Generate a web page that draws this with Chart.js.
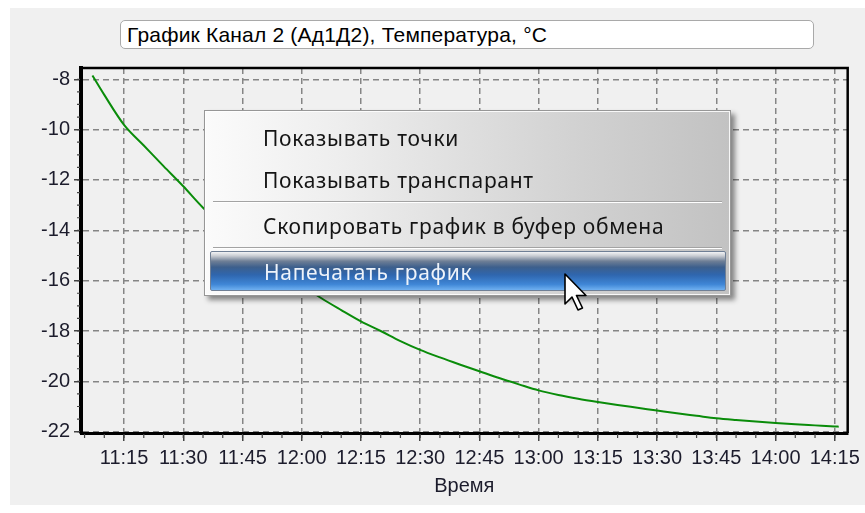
<!DOCTYPE html>
<html>
<head>
<meta charset="utf-8">
<script src="https://cdn.jsdelivr.net/npm/chart.js@4.4.1/dist/chart.umd.min.js"></script>
<style>
  html, body { margin: 0; padding: 0; background: #ffffff; }
  #wrap { position: relative; width: 865px; height: 513px; overflow: hidden; }
  #panel { position: absolute; left: 10px; top: 8px; width: 855px; height: 497px; background: #f0f0f0; }
  #c { position: absolute; left: 0; top: 0; }
  #caption {
    position: absolute; left: 120px; top: 20px; width: 694px; height: 29px;
    box-sizing: border-box; border: 1px solid #a9a9a9; border-radius: 5px;
    background: #ffffff; font-family: "Liberation Sans", Arial, sans-serif;
    font-size: 21px; line-height: 27px; padding-left: 6px; color: #000;
    white-space: nowrap; letter-spacing: 0.2px;
  }
  #menu {
    position: absolute; left: 204px; top: 110px; width: 527px; height: 186px;
    box-sizing: border-box; border: 1px solid #979797;
    background: linear-gradient(to right, #fbfbfb 0%, #eeeeee 25%, #d2d2d2 70%, #c2c2c2 100%);
    box-shadow: inset 0 0 0 1px rgba(255,255,255,0.85), 4px 4px 5px rgba(0,0,0,0.45);
    font-family: "Noto Sans", "Open Sans", sans-serif; font-size: 21px; letter-spacing: 0.7px; color: #141414;
  }
  .item { position: absolute; left: 58px; height: 30px; line-height: 30px; white-space: nowrap; }
  .sep { position: absolute; left: 8px; width: 509px; height: 1px; background: #a3a3a3; border-bottom: 1px solid #ffffff; }
  #hl {
    position: absolute; left: 5px; top: 140px; width: 516px; height: 40px;
    box-sizing: border-box; border: 1px solid #6f7f95; border-radius: 2px;
    background: linear-gradient(to bottom, #f2f3f5 0%, #c9cdd3 10%, #6f7f96 24%, #3d5f8c 40%, #2f66ae 60%, #3f86d6 85%, #6fb0f0 100%);
  }
  #hl .item { left: 53px; top: 5px; color: #eef3fa; }
  #cursor { position: absolute; left: 564px; top: 273px; }
</style>
</head>
<body>
<div id="wrap">
  <div id="panel"></div>
  <canvas id="c" width="865" height="513"></canvas>
  <div id="caption">График Канал 2 (Ад1Д2), Температура, °С</div>
  <div id="menu">
    <div class="item" style="top:12px">Показывать точки</div>
    <div class="item" style="top:54px">Показывать транспарант</div>
    <div class="sep" style="top:90px"></div>
    <div class="item" style="top:100px">Скопировать график в буфер обмена</div>
    <div class="sep" style="top:136px"></div>
    <div id="hl"><div class="item">Напечатать график</div></div>
  </div>
  <svg id="cursor" width="26" height="40" viewBox="0 0 26 40">
    <polygon points="1,1 1,31 8,24 14,37 18.5,35 12.5,22.5 22,22.5"
             fill="#ffffff" stroke="#000000" stroke-width="1.6" stroke-linejoin="round"/>
  </svg>
</div>
<script>
// Channel 2 temperature log (time of day, °C)
const times = [
  "11:07", "11:10", "11:15", "11:20", "11:25", "11:30", "11:35", "11:40",
  "11:45", "11:50", "11:55", "12:00", "12:05", "12:10", "12:15", "12:20",
  "12:25", "12:30", "12:35", "12:40", "12:45", "12:50", "12:55", "13:00",
  "13:05", "13:10", "13:15", "13:20", "13:25", "13:30", "13:35", "13:40",
  "13:45", "13:50", "13:55", "14:00", "14:05", "14:10", "14:15", "14:16"
];
const temps = [
  -7.85, -8.62, -9.81, -10.63, -11.45, -12.25, -13.10, -13.78,
  -14.43, -15.04, -15.62, -16.17, -16.70, -17.17, -17.62, -18.00,
  -18.40, -18.75, -19.05, -19.33, -19.60, -19.87, -20.12, -20.36,
  -20.54, -20.69, -20.82, -20.94, -21.05, -21.16, -21.27, -21.37,
  -21.47, -21.54, -21.60, -21.66, -21.71, -21.75, -21.79, -21.80
];

// Axis tick labels
const xTickLabels = ["11:15", "11:30", "11:45", "12:00", "12:15", "12:30", "12:45",
                     "13:00", "13:15", "13:30", "13:45", "14:00", "14:15"];
const yTickValues = [-22, -20, -18, -16, -14, -12, -10, -8];

const X_MIN = 664.1, X_MAX = 858.27;
const Y_MIN = -22.053, Y_MAX = -7.551;

const toMin = s => { const [h, m] = s.split(":").map(Number); return h * 60 + m; };
const fmtTime = v => {
  const h = Math.floor(v / 60), m = Math.round(v - h * 60);
  return h + ":" + String(m).padStart(2, "0");
};

const points = times.map((t, i) => ({ x: toMin(t), y: temps[i] }));
const xTickValues = xTickLabels.map(toMin);

// minor ticks: every 5 minutes on time axis, every 0.5 °C on value axis
const xMinor = [];
for (let v = 665; v <= X_MAX; v += 5) xMinor.push(v);
const yMinor = [];
for (let v = -22; v <= Y_MAX; v += 0.5) yMinor.push(v);

const frameAndMinor = {
  id: "frameAndMinor",
  afterDraw(chart) {
    const { ctx, chartArea: a, scales: { x, y } } = chart;
    ctx.save();
    ctx.strokeStyle = "#000";
    ctx.lineWidth = 2.5;
    ctx.beginPath();
    ctx.moveTo(a.left, a.top);
    ctx.lineTo(a.right, a.top);
    ctx.lineTo(a.right, a.bottom);
    ctx.stroke();
    ctx.strokeStyle = "#444";
    ctx.lineWidth = 1.2;
    ctx.beginPath();
    xMinor.forEach(v => {
      const px = x.getPixelForValue(v);
      ctx.moveTo(px, a.bottom + 1);
      ctx.lineTo(px, a.bottom + 5);
    });
    yMinor.forEach(v => {
      const py = y.getPixelForValue(v);
      ctx.moveTo(a.left - 1, py);
      ctx.lineTo(a.left - 4, py);
    });
    ctx.stroke();
    ctx.restore();
  }
};

const labelFont = { family: "'Liberation Sans', Arial, sans-serif", size: 20 };

new Chart(document.getElementById("c"), {
  type: "line",
  data: {
    datasets: [{
      data: points,
      borderColor: "#0a8c0a",
      borderWidth: 2,
      pointRadius: 0,
      cubicInterpolationMode: "monotone",
      fill: false
    }]
  },
  options: {
    responsive: false,
    animation: false,
    events: [],
    layout: { padding: { top: 68, right: 12, bottom: 0, left: 0 } },
    plugins: { legend: { display: false }, tooltip: { enabled: false }, title: { display: false } },
    scales: {
      x: {
        type: "linear",
        min: X_MIN, max: X_MAX,
        afterBuildTicks: s => { s.ticks = xTickValues.map(v => ({ value: v })); },
        afterFit: s => { s.height = 80; },
        ticks: {
          callback: v => fmtTime(v),
          font: labelFont, color: "#1c1c2c",
          padding: 5, maxRotation: 0, autoSkip: false
        },
        grid: {
          color: "#858585", lineWidth: 1.5,
          tickLength: 8, tickColor: "#444", tickWidth: 1.5
        },
        border: { display: true, color: "#000", width: 3, dash: [6, 4] },
        title: {
          display: true, text: "Время", font: labelFont, color: "#1c1c2c",
          padding: { top: 2, bottom: 15 }
        }
      },
      y: {
        type: "linear",
        min: Y_MIN, max: Y_MAX,
        afterBuildTicks: s => { s.ticks = yTickValues.map(v => ({ value: v })); },
        afterFit: s => { s.width = 81; },
        ticks: { font: labelFont, color: "#1c1c2c", padding: 4 },
        grid: {
          color: "#858585", lineWidth: 1.5,
          tickLength: 7, tickColor: "#444", tickWidth: 1.5
        },
        border: { display: true, color: "#000", width: 4, dash: [6, 4] }
      }
    }
  },
  plugins: [frameAndMinor]
});
</script>
</body>
</html>
